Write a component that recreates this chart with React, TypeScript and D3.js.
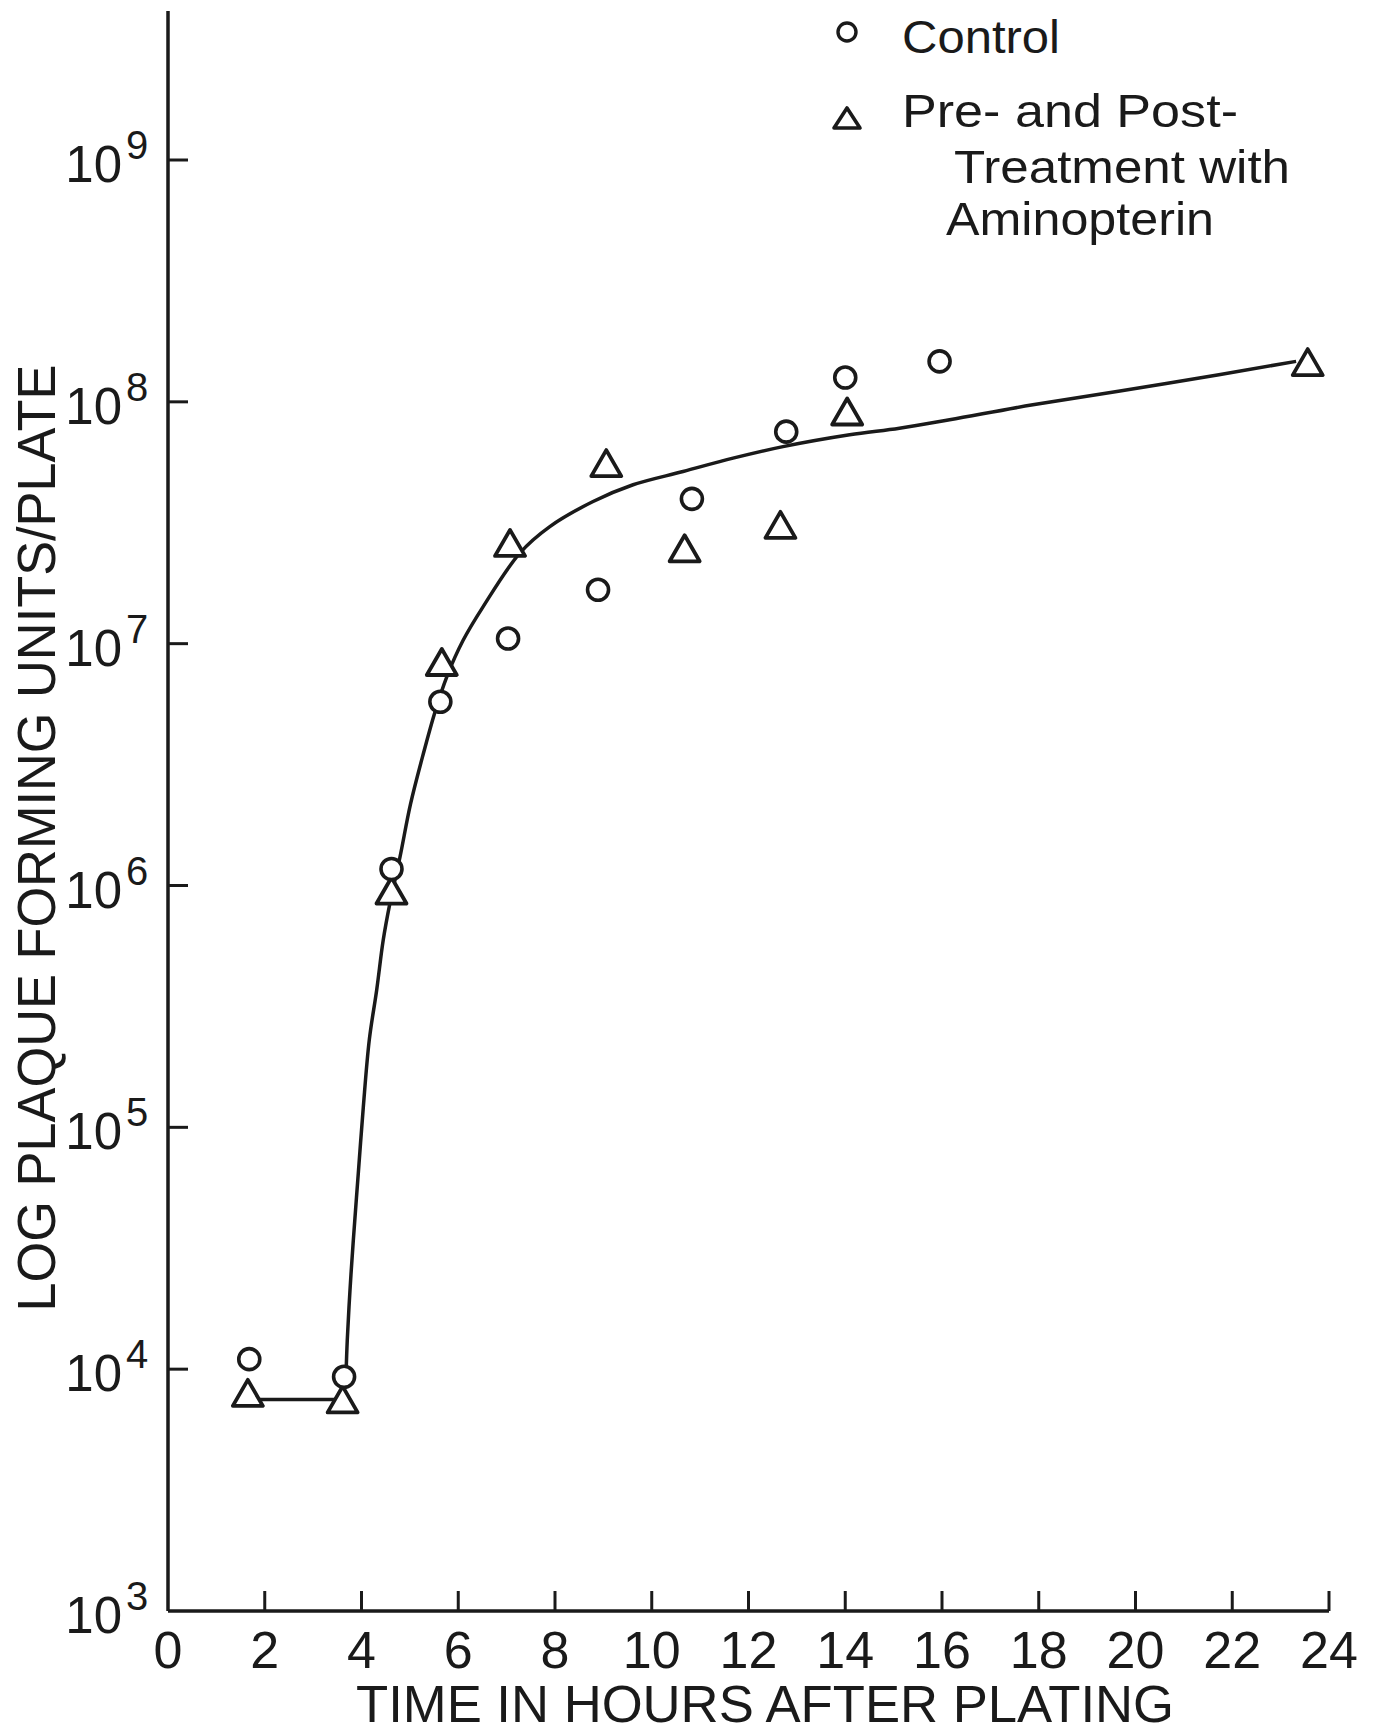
import React from "react"
import * as d3 from "d3"

// time in hours after plating
const xTicks = [0, 2, 4, 6, 8, 10, 12, 14, 16, 18, 20, 22, 24]
const yExponents = [3, 4, 5, 6, 7, 8, 9]

// control (circles)
const controlHours = [1.68, 3.64, 4.62, 5.63, 7.03, 8.89, 10.83, 12.78, 14.0, 15.95]
const controlPfu = [1.1e4, 9.3e3, 1.17e6, 5.75e6, 1.05e7, 1.67e7, 3.97e7, 7.53e7, 1.26e8, 1.47e8]

// pre- and post-treatment with aminopterin (triangles)
const treatedHours = [1.65, 3.61, 4.62, 5.66, 7.07, 9.06, 10.68, 12.66, 14.04, 23.56]
const treatedPfu = [7.98e3, 7.5e3, 9.53e5, 8.4e6, 2.61e7, 5.58e7, 2.48e7, 3.1e7, 9.12e7, 1.46e8]

// hand drawn fit line: flat part, then the rise
const flatHours = [1.65, 3.62]
const flatPfu = [7.5e3, 7.5e3]
const riseHours = [3.68, 3.706, 3.762, 3.831, 3.934, 4.037, 4.161, 4.314, 4.45, 4.589, 4.795, 5.013, 5.282,
  5.519, 5.767, 6.098, 6.512, 7.273, 7.893, 8.787, 9.614, 10.647, 11.68, 12.713, 14.091, 15.12, 16.157,
  17.878, 20.634, 23.32]
const risePfu = [9.46e3, 1.32e4, 2.12e4, 3.42e4, 6.47e4, 1.21e5, 2.3e5, 3.7e5, 5.96e5, 8.47e5, 1.31e6,
  2.17e6, 3.53e6, 5.22e6, 7.33e6, 1.03e7, 1.42e7, 2.37e7, 3.05e7, 3.87e7, 4.54e7, 5.15e7, 5.85e7, 6.53e7,
  7.31e7, 7.78e7, 8.43e7, 9.72e7, 1.19e8, 1.47e8]

const legendLines = ["Pre- and Post-", "Treatment with", "Aminopterin"]

const width = 1386
const height = 1736
const font = "'Liberation Sans', Arial, sans-serif"
const ink = "#1a1a1a"

export default function App() {
  const x = d3.scaleLinear().domain([0, 24]).range([168, 1329])
  const y = d3.scaleLog().domain([1e3, 1e9]).range([1611, 160])

  const line = d3.line<[number, number]>()
    .x(d => x(d[0]))
    .y(d => y(d[1]))
  const smooth = d3.line<[number, number]>()
    .x(d => x(d[0]))
    .y(d => y(d[1]))
    .curve(d3.curveCatmullRom.alpha(0.5))

  const flat = flatHours.map((h, i) => [h, flatPfu[i]] as [number, number])
  const rise = riseHours.map((h, i) => [h, risePfu[i]] as [number, number])

  const tri = (cx: number, cy: number, w: number, h: number) =>
    `M${cx},${cy - h / 2}L${cx + w / 2},${cy + h / 2}L${cx - w / 2},${cy + h / 2}Z`

  const x0 = x(0)
  const yBase = y(1e3)

  return (
    <svg width={width} height={height} style={{ position: "absolute", left: 0, top: 0, background: "#fff" }}>
      {/* axes */}
      <line x1={x0} y1={11} x2={x0} y2={yBase} stroke={ink} strokeWidth={3.5} />
      <line x1={x0} y1={yBase} x2={x(24)} y2={yBase} stroke={ink} strokeWidth={3.5} />
      {xTicks.filter(t => t > 0).map(t => (
        <line key={"xt" + t} x1={x(t)} x2={x(t)} y1={yBase} y2={yBase - 20} stroke={ink} strokeWidth={3} />
      ))}
      {xTicks.map(t => (
        <text key={"xl" + t} x={x(t)} y={1668} textAnchor="middle" fontFamily={font} fontSize={52} fill={ink}>
          {t}
        </text>
      ))}
      {yExponents.filter(e => e > 3).map(e => (
        <line key={"yt" + e} x1={x0} x2={x0 + 20} y1={y(Math.pow(10, e))} y2={y(Math.pow(10, e))} stroke={ink} strokeWidth={3} />
      ))}
      {yExponents.map(e => {
        const yy = y(Math.pow(10, e))
        return (
          <g key={"yl" + e}>
            <text x={122} y={yy + 22} textAnchor="end" fontFamily={font} fontSize={51} fill={ink}>10</text>
            <text x={126} y={yy - 1} fontFamily={font} fontSize={40} fill={ink}>{e}</text>
          </g>
        )
      })}

      <text x={765} y={1722} textAnchor="middle" fontFamily={font} fontSize={52} fill={ink}
        textLength={818} lengthAdjust="spacingAndGlyphs">
        TIME IN HOURS AFTER PLATING
      </text>
      <text x={55} y={838} textAnchor="middle" fontFamily={font} fontSize={54} fill={ink}
        transform="rotate(-90,55,838)" textLength={947} lengthAdjust="spacingAndGlyphs">
        LOG PLAQUE FORMING UNITS/PLATE
      </text>

      {/* fit line */}
      <path d={line(flat) || ""} fill="none" stroke={ink} strokeWidth={3.5} />
      <path d={smooth(rise) || ""} fill="none" stroke={ink} strokeWidth={3.5} />

      {/* markers */}
      {treatedHours.map((h, i) => (
        <path key={"tr" + i} d={tri(x(h), y(treatedPfu[i]), 30, 26)} fill="#fff" stroke={ink}
          strokeWidth={3.8} strokeLinejoin="round" />
      ))}
      {controlHours.map((h, i) => (
        <circle key={"c" + i} cx={x(h)} cy={y(controlPfu[i])} r={10.5} fill="#fff" stroke={ink} strokeWidth={3.6} />
      ))}

      {/* legend */}
      <circle cx={847} cy={32} r={9} fill="#fff" stroke={ink} strokeWidth={3.4} />
      <text x={902} y={53} fontFamily={font} fontSize={47} fill={ink} textLength={158} lengthAdjust="spacingAndGlyphs">
        Control
      </text>
      <path d={tri(847, 118, 26, 20)} fill="#fff" stroke={ink} strokeWidth={3.6} strokeLinejoin="round" />
      <text x={902} y={127} fontFamily={font} fontSize={47} fill={ink} textLength={336} lengthAdjust="spacingAndGlyphs">
        {legendLines[0]}
      </text>
      <text x={954} y={183} fontFamily={font} fontSize={47} fill={ink} textLength={336} lengthAdjust="spacingAndGlyphs">
        {legendLines[1]}
      </text>
      <text x={946} y={235} fontFamily={font} fontSize={47} fill={ink} textLength={268} lengthAdjust="spacingAndGlyphs">
        {legendLines[2]}
      </text>
    </svg>
  )
}
